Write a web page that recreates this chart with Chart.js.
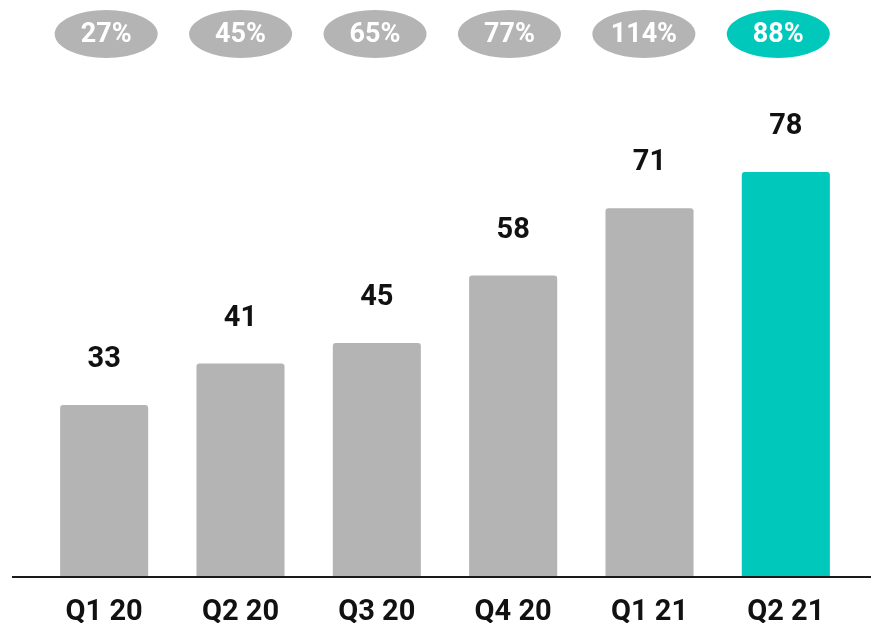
<!DOCTYPE html>
<html>
<head>
<meta charset="utf-8">
<script src="https://cdn.jsdelivr.net/npm/chart.js@4/dist/chart.umd.min.js"></script>
<style>
  html, body { margin: 0; padding: 0; background: #ffffff; }
  #wrap { width: 871px; height: 623px; }
</style>
</head>
<body>
<div id="wrap"><canvas id="chart" width="871" height="623"></canvas></div>
<script>
// Quarterly values and year-over-year growth
const quarters = ['Q1 20', 'Q2 20', 'Q3 20', 'Q4 20', 'Q1 21', 'Q2 21'];
const values = [33, 41, 45, 58, 71, 78];
const growthPct = [27, 45, 65, 77, 114, 88];

const GRAY = '#b4b4b4';
const TEAL = '#00c9bb';
const barColors = quarters.map((q, i) => i === quarters.length - 1 ? TEAL : GRAY);
const FONT = 'Roboto, "Liberation Sans", Arial, sans-serif';

// Value labels above each bar, growth pills at the top and a full-width baseline
const decorations = {
  id: 'decorations',
  afterDatasetsDraw(chart) {
    const { ctx, chartArea } = chart;
    const meta = chart.getDatasetMeta(0);
    const x0 = meta.data[0].x;
    ctx.save();

    // baseline
    ctx.strokeStyle = '#1a1a1a';
    ctx.lineWidth = 2;
    ctx.beginPath();
    ctx.moveTo(12, chartArea.bottom + 1);
    ctx.lineTo(chart.width, chartArea.bottom + 1);
    ctx.stroke();

    meta.data.forEach((bar, i) => {
      // value label
      ctx.fillStyle = '#111111';
      ctx.font = 'bold 29px ' + FONT;
      ctx.textAlign = 'center';
      ctx.textBaseline = 'middle';
      ctx.fillText(String(values[i]), bar.x, bar.y - 45);

      // growth pill (the pill row is spaced a touch tighter than the bars)
      const cx = x0 + 2 + (bar.x - x0) * 0.986;
      const cy = 34;
      ctx.fillStyle = barColors[i];
      ctx.beginPath();
      ctx.ellipse(cx, cy, 51.5, 24, 0, 0, Math.PI * 2);
      ctx.fill();
      ctx.fillStyle = '#ffffff';
      ctx.font = 'bold 27px ' + FONT;
      ctx.fillText(growthPct[i] + '%', cx, cy + 1);
    });
    ctx.restore();
  }
};

new Chart(document.getElementById('chart'), {
  type: 'bar',
  data: {
    labels: quarters,
    datasets: [{
      data: values,
      backgroundColor: barColors,
      borderRadius: { topLeft: 3, topRight: 3 },
      borderSkipped: 'bottom',
      barPercentage: 0.646,
      categoryPercentage: 1.0
    }]
  },
  options: {
    responsive: false,
    animation: false,
    layout: { padding: { left: 36, right: 17, top: 58, bottom: 0 } },
    plugins: { legend: { display: false }, tooltip: { enabled: false } },
    scales: {
      x: {
        grid: { display: false, drawTicks: false },
        border: { display: false },
        ticks: {
          color: '#111111',
          font: { family: FONT, size: 29, weight: 'bold' },
          padding: 19,
          maxRotation: 0
        },
        afterFit(scale) { scale.height = 47; }
      },
      y: {
        display: false,
        min: 0,
        max: 100
      }
    }
  },
  plugins: [decorations]
});
</script>
</body>
</html>
